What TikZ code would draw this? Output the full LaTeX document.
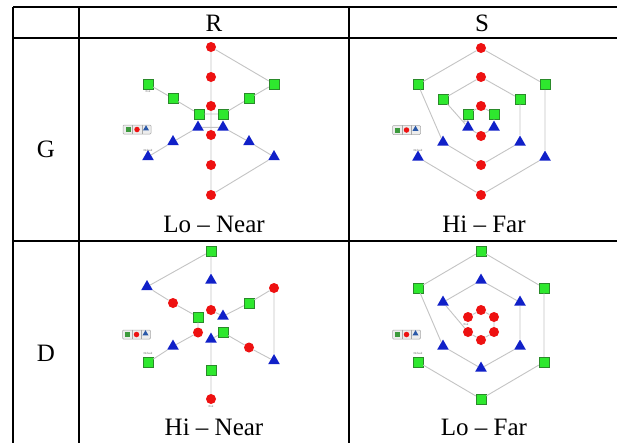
\documentclass[tikz,border=0pt]{standalone}
\usepackage{fontspec}
\setmainfont{Liberation Serif}
\usetikzlibrary{shapes.geometric}
\definecolor{sqfill}{HTML}{2EE82E}
\definecolor{sqborder}{HTML}{2A8A2A}
\definecolor{cirfill}{HTML}{EE1111}
\definecolor{trifill}{HTML}{1020C8}
\definecolor{linegray}{HTML}{C4C4C4}
\definecolor{legfill}{HTML}{EDEDED}
\definecolor{legborder}{HTML}{A8A8A8}
\definecolor{leggreen}{HTML}{3C9A3C}
\definecolor{legblue}{HTML}{2A58A8}
\tikzset{
  tabline/.style={line width=2pt, draw=black},
  sqn/.style={rectangle, draw=sqborder, fill=sqfill, minimum size=10pt, inner sep=0pt, line width=0.5pt},
  cirn/.style={circle, fill=cirfill, minimum size=10pt, inner sep=0pt},
  trin/.style={regular polygon, regular polygon sides=3, fill=trifill, minimum size=13.5pt, inner sep=0pt, yshift=1.7pt},
  conn/.style={draw=linegray, line width=0.9pt},
  bigtxt/.style={font=\fontsize{25}{28}\selectfont, anchor=base, inner sep=0pt},
  tinytxt/.style={font=\fontsize{3}{3}\selectfont, text=black!60, inner sep=0pt},
  legbox/.style={rectangle, rounded corners=1pt, draw=legborder, fill=legfill, minimum width=28pt, minimum height=9pt, inner sep=0pt, line width=0.5pt},
  legsq/.style={rectangle, fill=leggreen, minimum size=5pt, inner sep=0pt},
  legci/.style={circle, fill=cirfill, minimum size=5.5pt, inner sep=0pt},
  legtr/.style={regular polygon, regular polygon sides=3, fill=legblue, minimum size=7pt, inner sep=0pt, yshift=0.8pt},
}
\newcommand{\mylegend}[3]{%
  \node[legbox] (#1) at (#2,#3) {};
  \node[legsq] (#1g) at ([xshift=-9pt]#1.center) {};
  \node[legci] (#1r) at (#1.center) {};
  \node[legtr] (#1b) at ([xshift=9pt]#1.center) {};
  \draw[legborder, line width=0.4pt] ([xshift=-4.7pt]#1.north) -- ([xshift=-4.7pt]#1.south);
  \draw[legborder, line width=0.4pt] ([xshift=4.7pt]#1.north) -- ([xshift=4.7pt]#1.south);
}
\begin{document}
\begin{tikzpicture}[x=1pt,y=-1pt]
\useasboundingbox (0,0) rectangle (617,442);
\fill[white] (0,0) rectangle (617,442);
% ---------- table ----------
\begin{scope}
\clip (0,0) rectangle (617,442);
\coordinate (tl) at (13,7);
\coordinate (tr) at (640,7);
\coordinate (h1l) at (13,38);
\coordinate (h1r) at (640,38);
\coordinate (h2l) at (13,241);
\coordinate (h2r) at (640,241);
\coordinate (v1t) at (13,7);
\coordinate (v1b) at (13,460);
\coordinate (v2t) at (79,7);
\coordinate (v2b) at (79,460);
\coordinate (v3t) at (349,7);
\coordinate (v3b) at (349,460);
\draw[tabline] (tl) -- (tr);
\draw[tabline] (h1l) -- (h1r);
\draw[tabline] (h2l) -- (h2r);
\draw[tabline] (v1t) -- (v1b);
\draw[tabline] (v2t) -- (v2b);
\draw[tabline] (v3t) -- (v3b);
\end{scope}
% ---------- headers ----------
\node[bigtxt] (hR) at (214,31) {R};
\node[bigtxt] (hS) at (482,31) {S};
\node[bigtxt] (hG) at (46,157) {G};
\node[bigtxt] (hD) at (46,361) {D};
\node[bigtxt] (c1) at (214,232) {Lo – Near};
\node[bigtxt] (c2) at (484,232) {Hi – Far};
\node[bigtxt] (c3) at (214,435) {Hi – Near};
\node[bigtxt] (c4) at (484,435) {Lo – Far};

% ---------- cell 1 : R / G ----------
\node[cirn] (r1a) at (211,47) {};
\node[cirn] (r1b) at (211,77) {};
\node[cirn] (r1c) at (211,106) {};
\node[cirn] (r1d) at (211,135) {};
\node[cirn] (r1e) at (211,165) {};
\node[cirn] (r1f) at (211,195) {};
\node[sqn] (g1a) at (148,84) {};
\node[sqn] (g1b) at (173,98.5) {};
\node[sqn] (g1c) at (199,114) {};
\node[sqn] (g1d) at (223,114) {};
\node[sqn] (g1e) at (249,98.5) {};
\node[sqn] (g1f) at (274,84) {};
\node[trin] (b1a) at (198,129) {};
\node[trin] (b1b) at (223,129) {};
\node[trin] (b1c) at (173,143.5) {};
\node[trin] (b1d) at (249,143.5) {};
\node[trin] (b1e) at (148,158.5) {};
\node[trin] (b1f) at (274,158.5) {};
\draw[conn] (g1a) -- (g1b) -- (g1c) -- (g1d) -- (g1e) -- (g1f) -- (r1a);
\draw[conn] (r1a) -- (r1b) -- (r1c) -- (r1d) -- (r1e) -- (r1f) -- (b1f);
\draw[conn] (b1f) -- (b1d) -- (b1b) -- (b1a) -- (b1c) -- (b1e);
\mylegend{leg1}{137}{129.5}
\node[tinytxt] (t1a) at (148,91.5) {Exit};
\node[tinytxt] (t1b) at (148,150) {Default};

% ---------- cell 2 : S / G ----------
\node[cirn] (r2o1) at (481,48) {};
\node[sqn] (g2o1) at (418,84.5) {};
\node[sqn] (g2o2) at (545,84.5) {};
\node[trin] (b2o1) at (418,159) {};
\node[trin] (b2o2) at (545,159) {};
\node[cirn] (r2o2) at (481,195) {};
\node[cirn] (r2m1) at (481,77) {};
\node[sqn] (g2m1) at (443,99) {};
\node[sqn] (g2m2) at (520,99) {};
\node[trin] (b2m1) at (443,144) {};
\node[trin] (b2m2) at (520,144) {};
\node[cirn] (r2m2) at (481,165) {};
\node[cirn] (r2i1) at (481,106) {};
\node[sqn] (g2i1) at (468,114) {};
\node[sqn] (g2i2) at (494,114) {};
\node[trin] (b2i1) at (468,129) {};
\node[trin] (b2i2) at (494,129) {};
\node[cirn] (r2i2) at (481,136) {};
\draw[conn] (b2o1) -- (r2o2) -- (b2o2) -- (g2o2) -- (r2o1) -- (g2o1) -- (b2m1);
\draw[conn] (b2m1) -- (r2m2) -- (b2m2) -- (g2m2) -- (r2m1) -- (g2m1) -- (b2i1);
\draw[conn] (b2i1) -- (r2i2) -- (b2i2) -- (g2i2) -- (r2i1) -- (g2i1);
\mylegend{leg2}{406.5}{130}
\node[tinytxt] (t2a) at (466,121.5) {Exit};
\node[tinytxt] (t2b) at (418,150) {Default};

% ---------- cell 3 : R / D ----------
\node[sqn] (g3a) at (211,251) {};
\node[trin] (b3a) at (211,282) {};
\node[cirn] (r3a) at (211,310) {};
\node[trin] (b3b) at (211,341) {};
\node[sqn] (g3b) at (211,370) {};
\node[cirn] (r3b) at (211,399) {};
\node[trin] (b3c) at (147,288.5) {};
\node[cirn] (r3c) at (173,303) {};
\node[sqn] (g3c) at (198,317) {};
\node[cirn] (r3d) at (198,332.5) {};
\node[trin] (b3d) at (173,348) {};
\node[sqn] (g3d) at (148,362.5) {};
\node[cirn] (r3e) at (274,288) {};
\node[sqn] (g3e) at (249,303) {};
\node[trin] (b3e) at (223,318) {};
\node[sqn] (g3f) at (223,332.5) {};
\node[cirn] (r3f) at (249,347.5) {};
\node[trin] (b3f) at (274,362.5) {};
\draw[conn] (g3d) -- (b3d) -- (r3d) -- (g3c) -- (r3c) -- (b3c) -- (g3a);
\draw[conn] (g3a) -- (b3a) -- (r3a) -- (b3e) -- (g3e) -- (r3e) -- (b3f);
\draw[conn] (b3f) -- (r3f) -- (g3f) -- (b3b) -- (g3b) -- (r3b);
\mylegend{leg3}{136.5}{334.5}
\node[tinytxt] (t3a) at (211,407) {Exit};
\node[tinytxt] (t3b) at (148,353.5) {Default};

% ---------- cell 4 : S / D ----------
\node[sqn] (g4o1) at (481,251) {};
\node[sqn] (g4o2) at (418,288) {};
\node[sqn] (g4o3) at (544,288) {};
\node[sqn] (g4o4) at (418,362) {};
\node[sqn] (g4o5) at (544,362) {};
\node[sqn] (g4o6) at (481,399) {};
\node[trin] (b4m1) at (481,282) {};
\node[trin] (b4m2) at (443,304) {};
\node[trin] (b4m3) at (520,304) {};
\node[trin] (b4m4) at (443,348) {};
\node[trin] (b4m5) at (520,348) {};
\node[trin] (b4m6) at (481,370) {};
\node[cirn] (r4i1) at (481,310) {};
\node[cirn] (r4i2) at (468,317) {};
\node[cirn] (r4i3) at (494,317) {};
\node[cirn] (r4i4) at (468,332) {};
\node[cirn] (r4i5) at (494,332) {};
\node[cirn] (r4i6) at (481,340) {};
\draw[conn] (g4o4) -- (g4o6) -- (g4o5) -- (g4o3) -- (g4o1) -- (g4o2) -- (b4m4);
\draw[conn] (b4m4) -- (b4m6) -- (b4m5) -- (b4m3) -- (b4m1) -- (b4m2) -- (r4i4);
\draw[conn] (r4i4) -- (r4i6) -- (r4i5) -- (r4i3) -- (r4i1) -- (r4i2);
\mylegend{leg4}{406.5}{334.5}
\node[tinytxt] (t4a) at (466,324.5) {Exit};
\node[tinytxt] (t4b) at (418,353) {Default};
\end{tikzpicture}
\end{document}
